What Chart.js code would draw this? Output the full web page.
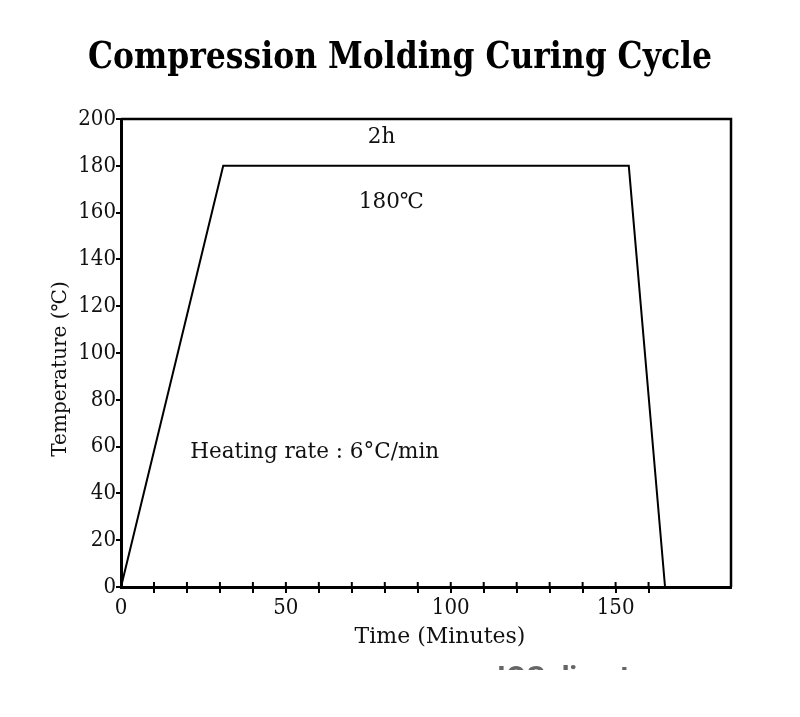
<!doctype html>
<html lang="en">
<head>
  <meta charset="utf-8">
  <title>Compression Molding Curing Cycle</title>
  <style>
    html, body { margin: 0; padding: 0; background: #fff; }
    canvas { display: block; }
  </style>
</head>
<body>
  <canvas id="myChart" width="800" height="717"></canvas>
  <script src="https://cdn.jsdelivr.net/npm/chart.js"></script>
  <script>
    // curing profile
    const timeMin = [0, 31, 154, 165];
    const tempC = [0, 180, 180, 0];
    const xLabelValues = [0, 50, 100, 150];
    const xMinorMax = 160;

    const FONT = "'DejaVu Serif Condensed', 'DejaVu Serif', serif";
    const TEXT_FONT = "'DejaVu Serif', serif";
    const TITLE = 'Compression Molding Curing Cycle';

    const notes = [
      { text: '2h', x: 79, y: 192, align: 'center' },
      { text: '180\u2103', x: 82, y: 164.5, align: 'center' },
      { text: 'Heating rate : 6\u00b0C/min', x: 21, y: 57.5, align: 'left' }
    ];

    const frame = {
      id: 'frame',
      beforeDraw(chart) {
        const ctx = chart.ctx;
        ctx.save();
        ctx.fillStyle = '#fff';
        ctx.fillRect(0, 0, chart.width, chart.height);
        ctx.restore();
      },
      afterDraw(chart) {
        const { ctx, chartArea: a, scales: { x, y } } = chart;
        ctx.save();
        // title, squeezed to the width of the original
        ctx.fillStyle = '#000';
        ctx.font = 'bold 37px ' + FONT;
        ctx.textAlign = 'center';
        ctx.textBaseline = 'alphabetic';
        const w = ctx.measureText(TITLE).width;
        ctx.save();
        ctx.translate(400, 68);
        ctx.scale(Math.min(1, 624 / w), 1);
        ctx.fillText(TITLE, 0, 0);
        ctx.restore();
        // top and right border
        ctx.strokeStyle = '#000';
        ctx.lineWidth = 2.5;
        ctx.beginPath();
        ctx.moveTo(a.left, a.top);
        ctx.lineTo(a.right, a.top);
        ctx.lineTo(a.right, a.bottom);
        ctx.stroke();
        // inner half of the x ticks
        ctx.lineWidth = 2;
        x.ticks.forEach(t => {
          if (t.value > 0 && t.value <= xMinorMax) {
            const px = x.getPixelForValue(t.value);
            ctx.beginPath();
            ctx.moveTo(px, a.bottom);
            ctx.lineTo(px, a.bottom - 5);
            ctx.stroke();
          }
        });
        // notes
        ctx.fillStyle = '#111';
        ctx.font = '21.5px ' + TEXT_FONT;
        ctx.textBaseline = 'middle';
        notes.forEach(n => {
          ctx.textAlign = n.align;
          ctx.fillText(n.text, x.getPixelForValue(n.x), y.getPixelForValue(n.y));
        });
        // axis titles
        ctx.font = '22px ' + TEXT_FONT;
        ctx.textAlign = 'center';
        ctx.fillText('Time (Minutes)', 440, 637);
        ctx.save();
        ctx.translate(61, 369);
        ctx.rotate(-Math.PI / 2);
        ctx.font = '20px ' + TEXT_FONT;
        ctx.fillText('Temperature (\u2103)', 0, 0);
        ctx.restore();
        // cut-off watermark
        ctx.beginPath();
        ctx.rect(0, 0, chart.width, 670);
        ctx.clip();
        ctx.fillStyle = '#666';
        ctx.font = 'bold 30px Roboto, sans-serif';
        ctx.textAlign = 'left';
        ctx.textBaseline = 'top';
        ctx.fillText('IQS directory', 497, 664);
        ctx.restore();
      }
    };

    const config = {
      type: 'line',
      data: {
        datasets: [{
          data: timeMin.map((t, i) => ({ x: t, y: tempC[i] })),
          borderColor: '#000',
          borderWidth: 2,
          pointRadius: 0,
          tension: 0,
          clip: false
        }]
      },
      options: {
        responsive: false,
        animation: false,
        layout: { padding: { left: 0, right: 69, top: 119, bottom: 0 } },
        plugins: {
          legend: { display: false },
          tooltip: { enabled: false },
          title: { display: false }
        },
        scales: {
          x: {
            type: 'linear',
            min: 0,
            max: 185,
            afterFit: s => { s.height = 130; },
            border: { display: true, color: '#000', width: 3 },
            grid: {
              drawOnChartArea: false,
              tickLength: 6,
              lineWidth: 2,
              color: c => (c.tick && c.tick.value > 0 && c.tick.value <= xMinorMax) ? '#000' : 'rgba(0,0,0,0)'
            },
            ticks: {
              stepSize: 10,
              autoSkip: false,
              maxRotation: 0,
              padding: 2,
              color: '#111',
              font: { family: FONT, size: 22 },
              callback: v => xLabelValues.includes(v) ? String(v) : ''
            }
          },
          y: {
            min: 0,
            max: 200,
            afterFit: s => { s.width = 121; },
            border: { display: true, color: '#000', width: 3 },
            grid: { drawOnChartArea: false, tickLength: 5, lineWidth: 2, color: '#000' },
            ticks: {
              stepSize: 20,
              padding: 0,
              color: '#111',
              font: { family: FONT, size: 22 }
            }
          }
        }
      },
      plugins: [frame]
    };

    const myChart = new Chart(document.getElementById('myChart'), config);
  </script>
</body>
</html>
